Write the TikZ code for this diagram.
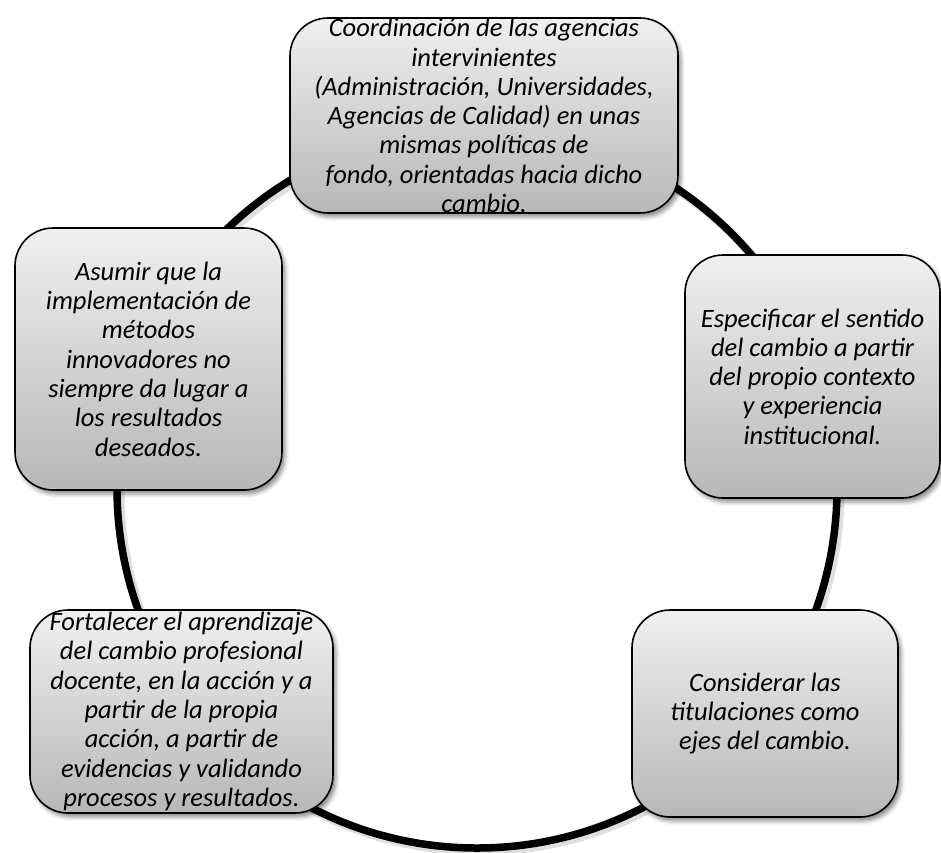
\documentclass[tikz,border=0pt]{standalone}
\usepackage{fontspec}
\setmainfont{Carlito}
\usetikzlibrary{shadows.blur}

\tikzset{
  ringline/.style={draw=black, line width=7.5pt, circle, inner sep=0pt, minimum size=720pt},
  ringshade/.style={draw=black!25, line width=9pt, circle, inner sep=0pt, minimum size=720pt, opacity=0.5},
  card/.style={draw=black, line width=1.6pt, rounded corners=38pt,
    top color=black!6, bottom color=black!28, inner sep=0pt,
    align=center, font=\fontsize{26.5pt}{29.3pt}\selectfont\itshape,
    blur shadow={shadow xshift=3pt, shadow yshift=-4pt, shadow blur radius=4pt, shadow opacity=45}},
}

\begin{document}
\begin{tikzpicture}[x=1pt,y=-1pt]
  \useasboundingbox (0,0) rectangle (941,852);

  % the cycle that links the five cards
  \node[ringshade] (ringshadow) at (480,491) {};
  \node[ringline] (ring) at (477,488) {};

  \node[card, minimum width=388pt, minimum height=195pt] (coord) at (484,115.5)
    {Coordinación de las agencias\\intervinientes\\(Administración, Universidades,\\Agencias de Calidad) en unas\\mismas políticas de\\fondo, orientadas hacia dicho\\cambio.};

  \node[card, minimum width=255pt, minimum height=243pt] (espec) at (812.5,376.5)
    {Especificar el sentido\\del cambio a partir\\del propio contexto\\y experiencia\\institucional.};

  \node[card, minimum width=266pt, minimum height=207pt] (consid) at (765,713.5)
    {Considerar las\\titulaciones como\\ejes del cambio.};

  \node[card, minimum width=303pt, minimum height=203pt] (fortal) at (181.5,711.5)
    {Fortalecer el aprendizaje\\del cambio profesional\\docente, en la acción y a\\partir de la propia\\acción, a partir de\\evidencias y validando\\procesos y resultados.};

  \node[card, minimum width=267pt, minimum height=262pt] (asumir) at (148.5,359)
    {Asumir que la\\implementación de\\métodos\\innovadores no\\siempre da lugar a\\los resultados\\deseados.};
\end{tikzpicture}
\end{document}
